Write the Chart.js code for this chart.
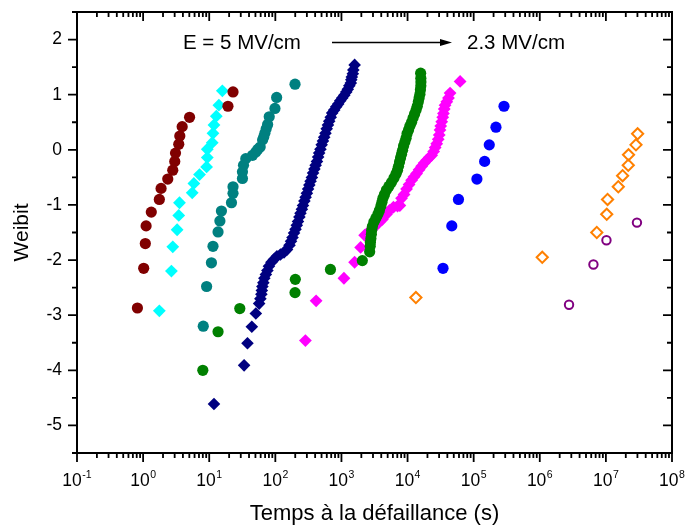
<!DOCTYPE html>
<html><head><meta charset="utf-8">
<script src="https://cdn.jsdelivr.net/npm/chart.js@4/dist/chart.umd.min.js"></script>
<style>html,body{margin:0;padding:0;background:#fff;}canvas{display:block;}</style>
</head><body>
<canvas id="c" width="686" height="529"></canvas>
<script>
// ---- Data (time to failure in s, Weibit) ----
const maroonT = [0.82, 1.02, 1.08, 1.11, 1.33, 1.76, 1.87, 2.36, 2.81, 3.01, 3.09, 3.46, 3.59, 3.90, 5.04, 19.2, 22.9];
const maroonW = [-2.87, -2.15, -1.70, -1.38, -1.13, -0.90, -0.70, -0.53, -0.37, -0.21, -0.06, 0.10, 0.25, 0.42, 0.59, 0.79, 1.05];

const cyanT = [1.76, 2.68, 2.81, 3.27, 3.46, 3.55, 5.53, 5.86, 7.14, 9.13, 9.35, 9.35, 11.1, 11.4, 11.8, 12.8, 14.0, 15.8];
const cyanW = [-2.92, -2.20, -1.76, -1.45, -1.19, -0.96, -0.78, -0.61, -0.45, -0.31, -0.14, 0.01, 0.13, 0.30, 0.45, 0.61, 0.81, 1.07];

const tealT = [8.13, 9.13, 10.8, 11.4, 13.6, 14.5, 15.3, 21.7, 22.9, 22.9, 31.8, 31.8, 33.0, 35.7, 45.2, 50.7, 54.4, 59.0, 64.2, 66.6, 69.5, 72.7, 76.4, 80.8, 98.6, 104.7, 198.6];
const tealW = [-3.20, -2.48, -2.05, -1.75, -1.49, -1.29, -1.11, -0.96, -0.79, -0.67, -0.52, -0.40, -0.28, -0.16, -0.10, -0.04, 0.01, 0.05, 0.18, 0.23, 0.30, 0.38, 0.46, 0.60, 0.75, 0.95, 1.19];

const navyT = [11.8, 33.7, 37.9, 44.1, 50.7, 56.9, 59.4, 61.5, 62.5, 63.7, 65.9, 68.2, 71.9, 75.8, 80.0, 87.3, 95.2, 105.7, 119.6, 135.2, 150.1, 163.8, 172.7, 181.9, 191.8, 202, 211, 220, 231, 240, 252, 262, 275, 287, 300, 313, 327, 341, 357, 372, 390, 407, 426, 444, 460, 481, 502, 525, 548, 573, 598, 625, 653, 688, 724, 778, 834, 894, 959, 1028, 1104, 1183, 1247, 1315, 1385, 1409, 1435, 1486, 1512, 1582];
const navyW = [-4.61, -3.91, -3.51, -3.21, -2.97, -2.79, -2.70, -2.62, -2.55, -2.48, -2.41, -2.33, -2.26, -2.19, -2.11, -2.04, -1.99, -1.93, -1.90, -1.86, -1.81, -1.73, -1.66, -1.59, -1.51, -1.44, -1.37, -1.30, -1.22, -1.15, -1.08, -1.01, -0.93, -0.86, -0.79, -0.71, -0.64, -0.57, -0.50, -0.42, -0.35, -0.28, -0.21, -0.13, -0.06, 0.01, 0.09, 0.16, 0.23, 0.30, 0.38, 0.45, 0.52, 0.59, 0.67, 0.72, 0.78, 0.83, 0.89, 0.94, 0.99, 1.05, 1.10, 1.16, 1.21, 1.27, 1.32, 1.38, 1.45, 1.54];

const greenT = [8.0, 13.6, 29.0, 198.6, 200.6, 682, 2070, 2673, 2722, 2742, 2789, 2837, 2866, 2938, 3096, 3320, 3561, 3751, 3956, 4096, 4244, 4470, 4794, 5233, 5712, 6235, 6687, 7050, 7300, 7560, 7830, 8110, 8400, 8700, 9100, 9490, 9820, 10350, 10830, 11500, 12130, 12770, 13450, 14030, 14540, 14960, 15380, 15660, 15880, 15930, 15880, 15770];
const greenW = [-4.00, -3.30, -2.88, -2.59, -2.35, -2.17, -2.01, -1.85, -1.75, -1.68, -1.61, -1.53, -1.46, -1.39, -1.31, -1.24, -1.17, -1.10, -1.02, -0.95, -0.88, -0.81, -0.73, -0.66, -0.59, -0.51, -0.44, -0.37, -0.30, -0.22, -0.15, -0.08, -0.01, 0.07, 0.14, 0.21, 0.29, 0.36, 0.43, 0.50, 0.58, 0.65, 0.72, 0.79, 0.87, 0.94, 1.01, 1.09, 1.16, 1.23, 1.30, 1.39];

const magentaT = [285, 414, 1091, 1581, 1950, 2244, 2673, 3041, 3381, 3752, 4169, 4796, 5325, 6124, 7050, 7640, 8110, 8850, 9660, 10540, 11510, 12560, 13710, 14960, 16330, 17820, 19450, 21230, 23170, 24830, 26180, 27600, 29100, 30130, 30970, 31750, 32880, 34040, 34900, 35900, 36900, 39170, 41580, 43970, 62370];
const magentaW = [-3.46, -2.74, -2.33, -2.04, -1.77, -1.55, -1.47, -1.42, -1.36, -1.31, -1.26, -1.17, -1.10, -1.04, -1.02, -1.01, -0.88, -0.81, -0.71, -0.63, -0.55, -0.49, -0.43, -0.36, -0.30, -0.24, -0.19, -0.14, -0.10, -0.03, 0.04, 0.11, 0.19, 0.27, 0.36, 0.43, 0.51, 0.59, 0.66, 0.74, 0.81, 0.87, 0.94, 1.03, 1.24];

const blueT = [34400, 46700, 58900, 112000, 146500, 172200, 217400, 287500];
const blueW = [-2.15, -1.38, -0.90, -0.53, -0.21, 0.09, 0.41, 0.79];

const orangeT = [13370, 1.09e6, 7.28e6, 1.03e7, 1.06e7, 1.54e7, 1.79e7, 2.18e7, 2.20e7, 2.85e7, 3.02e7];
const orangeW = [-2.68, -1.95, -1.50, -1.17, -0.90, -0.67, -0.47, -0.28, -0.09, 0.09, 0.29];

const purpleT = [2.77e6, 6.48e6, 1.02e7, 2.95e7];
const purpleW = [-2.81, -2.08, -1.64, -1.32];

// ---- Axes ----
const xMin = 0.1, xMax = 1e8;
const yMin = -5.5, yMax = 2.5;
const xDecades = [-1, 0, 1, 2, 3, 4, 5, 6, 7, 8];
const yTicks = [-5, -4, -3, -2, -1, 0, 1, 2];
const xTitle = 'Temps à la défaillance (s)';
const yTitle = 'Weibit';
const noteLeft = 'E = 5 MV/cm';
const noteRight = '2.3 MV/cm';

const FONT = "'Liberation Sans', Arial, Helvetica, sans-serif";

function pts(T, W) { return T.map((t, i) => ({ x: t, y: W[i] })); }
function ds(T, W, style, color, r, hollow) {
  return {
    data: pts(T, W), showLine: false, pointStyle: style, pointRadius: r, pointHoverRadius: r,
    pointBackgroundColor: hollow ? 'rgba(0,0,0,0)' : color,
    pointBorderColor: color, pointBorderWidth: hollow ? 2 : 0
  };
}

const datasets = [
  ds(maroonT, maroonW, 'circle', '#800000', 5.6),
  ds(cyanT, cyanW, 'rectRot', '#00FFFF', 6.4),
  ds(tealT, tealW, 'circle', '#008080', 5.6),
  ds(navyT, navyW, 'rectRot', '#000080', 6.3),
  ds(greenT, greenW, 'circle', '#008000', 5.6),
  ds(magentaT, magentaW, 'rectRot', '#FF00FF', 6.4),
  ds(blueT, blueW, 'circle', '#0000FF', 5.6),
  ds(orangeT, orangeW, 'rectRot', '#FF8000', 5.6, true),
  ds(purpleT, purpleW, 'circle', '#800080', 4.2, true)
];

const framePlugin = {
  id: 'frame',
  afterDraw(chart) {
    const ctx = chart.ctx, xs = chart.scales.x, ys = chart.scales.y;
    const L = chart.chartArea.left, R = chart.chartArea.right, T = chart.chartArea.top, B = chart.chartArea.bottom;
    ctx.save();
    ctx.strokeStyle = '#000';
    ctx.lineWidth = 2;
    ctx.beginPath();
    ctx.rect(L, T, R - L, B - T);
    ctx.stroke();
    ctx.lineWidth = 1.8;
    ctx.beginPath();
    // y ticks (left outward, right inward)
    for (let v = yMin; v <= yMax + 1e-9; v += 0.5) {
      const y = ys.getPixelForValue(v);
      const len = Math.abs(v - Math.round(v)) < 1e-9 ? 9 : 5;
      ctx.moveTo(L - len, y); ctx.lineTo(L, y);
      ctx.moveTo(R, y); ctx.lineTo(R - len, y);
    }
    // x ticks (bottom outward, top inward)
    xDecades.forEach(d => {
      for (let k = 1; k <= 9; k++) {
        if (d === xDecades[xDecades.length - 1] && k > 1) break;
        const x = xs.getPixelForValue(k * Math.pow(10, d));
        const len = k === 1 ? 9 : 5;
        ctx.moveTo(x, B); ctx.lineTo(x, B + len);
        ctx.moveTo(x, T); ctx.lineTo(x, T + len);
      }
    });
    ctx.stroke();

    // x tick labels 10^n
    ctx.fillStyle = '#000';
    ctx.textBaseline = 'alphabetic';
    ctx.textAlign = 'left';
    xDecades.forEach(d => {
      const x = xs.getPixelForValue(Math.pow(10, d));
      ctx.font = '17.5px ' + FONT;
      const w1 = ctx.measureText('10').width;
      ctx.font = '10.5px ' + FONT;
      const e = String(d);
      const w2 = ctx.measureText(e).width;
      const x0 = x - (w1 + w2 + 0.5) / 2;
      ctx.font = '17.5px ' + FONT;
      ctx.fillText('10', x0, B + 33);
      ctx.font = '10.5px ' + FONT;
      ctx.fillText(e, x0 + w1 + 0.5, B + 24.5);
    });

    // annotation
    ctx.font = '20.5px ' + FONT;
    ctx.fillText(noteLeft, 183, 49);
    ctx.fillText(noteRight, 467, 49);
    ctx.lineWidth = 1.3;
    ctx.beginPath();
    ctx.moveTo(332, 42.5); ctx.lineTo(443, 42.5);
    ctx.stroke();
    ctx.beginPath();
    ctx.moveTo(452, 42.5); ctx.lineTo(440, 39); ctx.lineTo(440, 46); ctx.closePath();
    ctx.fill();
    ctx.restore();
  }
};

new Chart(document.getElementById('c'), {
  type: 'scatter',
  data: { datasets },
  options: {
    responsive: false,
    animation: false,
    events: [],
    layout: { padding: { left: 0, top: 12, right: 14, bottom: 0 } },
    plugins: { legend: { display: false }, tooltip: { enabled: false } },
    scales: {
      x: {
        type: 'logarithmic', min: xMin, max: xMax,
        grid: { display: false, drawTicks: false },
        border: { display: false },
        ticks: { display: false },
        title: { display: true, text: xTitle, color: '#000', font: { family: FONT, size: 22 }, padding: { top: 0, bottom: 2 } },
        afterFit(s) { s.height = 76; s.paddingLeft = 0; s.paddingRight = 0; }
      },
      y: {
        type: 'linear', min: yMin, max: yMax,
        grid: { display: false, drawTicks: false },
        border: { display: false },
        afterBuildTicks(s) { s.ticks = yTicks.map(v => ({ value: v })); },
        ticks: { color: '#000', padding: 15, font: { family: FONT, size: 17.5 }, callback: v => String(v) },
        title: { display: true, text: yTitle, color: '#000', font: { family: FONT, size: 21 }, padding: { top: 10, bottom: 0 } },
        afterFit(s) { s.width = 77; s.paddingTop = 0; s.paddingBottom = 0; }
      }
    }
  },
  plugins: [framePlugin]
});
</script>
</body></html>
